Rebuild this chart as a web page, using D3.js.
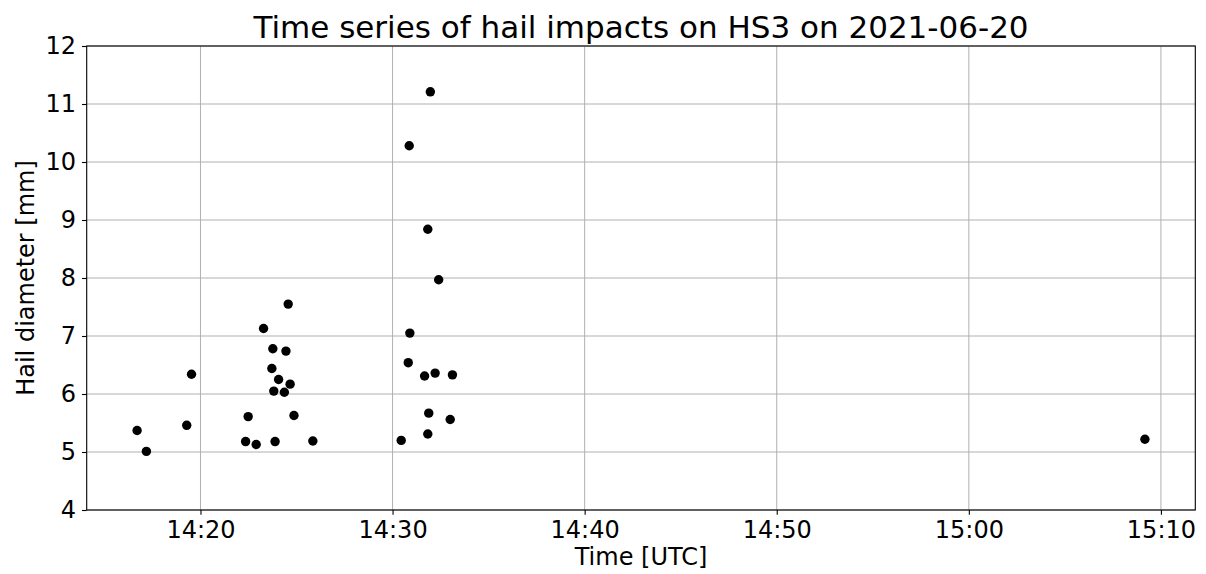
<!DOCTYPE html>
<html>
<head>
<meta charset="utf-8">
<script src="https://cdn.jsdelivr.net/npm/d3@7"></script>
<style>
  html, body { margin: 0; padding: 0; background: #fff; }
  svg { display: block; }
  text { font-family: "DejaVu Sans", sans-serif; fill: #000; }
</style>
</head>
<body>
<svg id="chart" width="1206" height="574"></svg>
<script>
// ---- data ----
const times = [
  "14:16:42","14:17:11","14:19:17","14:19:32",
  "14:24:34","14:23:17","14:23:46","14:24:27","14:23:43","14:24:04",
  "14:24:40","14:23:49","14:24:22","14:22:29","14:24:52","14:22:21",
  "14:22:54","14:23:53","14:25:51",
  "14:31:58","14:30:52","14:31:50","14:32:24","14:30:54","14:30:49",
  "14:31:40","14:32:13","14:33:07","14:31:53","14:33:00","14:31:50",
  "14:30:27",
  "15:09:10"
];
const diameters = [
  5.37, 5.01, 5.46, 6.34,
  7.55, 7.13, 6.78, 6.74, 6.44, 6.25,
  6.17, 6.05, 6.03, 5.61, 5.63, 5.18,
  5.13, 5.18, 5.19,
  11.21, 10.28, 8.84, 7.97, 7.05, 6.54,
  6.31, 6.36, 6.33, 5.67, 5.56, 5.31,
  5.20,
  5.22
];
const xTickLabels = ["14:20","14:30","14:40","14:50","15:00","15:10"];
const yTicks = [4,5,6,7,8,9,10,11,12];
const titleText = "Time series of hail impacts on HS3 on 2021-06-20";
const xLabel = "Time [UTC]";
const yLabel = "Hail diameter [mm]";

// ---- layout ----
const W = 1206, H = 574;
const m = { left: 86.7, right: W - 1195.3, top: 46, bottom: H - 510 };
const iw = W - m.left - m.right, ih = H - m.top - m.bottom;

const parse = d3.timeParse("%Y-%m-%d %H:%M:%S");
const dates = times.map(t => parse("2021-06-20 " + t));
const data = dates.map((d, i) => ({ t: d, v: diameters[i] }));

const ext = d3.extent(dates);
const span = ext[1] - ext[0];
const x = d3.scaleTime()
  .domain([new Date(+ext[0] - 0.05 * span), new Date(+ext[1] + 0.05 * span)])
  .range([0, iw]);
const y = d3.scaleLinear().domain([4, 12]).range([ih, 0]);

const xTickDates = xTickLabels.map(s => parse("2021-06-20 " + s + ":00"));

const svg = d3.select("#chart");
const g = svg.append("g").attr("transform", `translate(${m.left},${m.top})`);

// grid
g.append("g").selectAll("line").data(xTickDates).join("line")
  .attr("x1", d => x(d)).attr("x2", d => x(d))
  .attr("y1", 0).attr("y2", ih)
  .attr("stroke", "#b0b0b0").attr("stroke-width", 1);
g.append("g").selectAll("line").data(yTicks).join("line")
  .attr("x1", 0).attr("x2", iw)
  .attr("y1", d => y(d)).attr("y2", d => y(d))
  .attr("stroke", "#b0b0b0").attr("stroke-width", 1);

// axes
const xAxis = d3.axisBottom(x).tickValues(xTickDates)
  .tickFormat(d3.timeFormat("%H:%M")).tickSize(4.7).tickPadding(6);
const yAxis = d3.axisLeft(y).tickValues(yTicks)
  .tickFormat(d3.format("d")).tickSize(4.7).tickPadding(6);

const gx = g.append("g").attr("transform", `translate(0,${ih})`).call(xAxis);
const gy = g.append("g").call(yAxis);
[gx, gy].forEach(a => {
  a.select(".domain").remove();
  a.selectAll("line").attr("stroke", "#000").attr("stroke-width", 1.1);
  a.selectAll("text").attr("font-size", 24).attr("font-family", "DejaVu Sans").attr("fill", "#000");
});

// frame
g.append("rect").attr("x", 0).attr("y", 0).attr("width", iw).attr("height", ih)
  .attr("fill", "none").attr("stroke", "#000").attr("stroke-width", 1.1);

// points
g.append("g").selectAll("circle").data(data).join("circle")
  .attr("cx", d => x(d.t)).attr("cy", d => y(d.v)).attr("r", 4.7)
  .attr("fill", "#000");

// title and labels
svg.append("text").attr("x", m.left + iw / 2).attr("y", 38)
  .attr("text-anchor", "middle").attr("font-size", 31).text(titleText);
svg.append("text").attr("x", m.left + iw / 2).attr("y", 565)
  .attr("text-anchor", "middle").attr("font-size", 24).text(xLabel);
svg.append("text")
  .attr("transform", `translate(34,${m.top + ih / 2}) rotate(-90)`)
  .attr("text-anchor", "middle").attr("font-size", 24).text(yLabel);
</script>
</body>
</html>
